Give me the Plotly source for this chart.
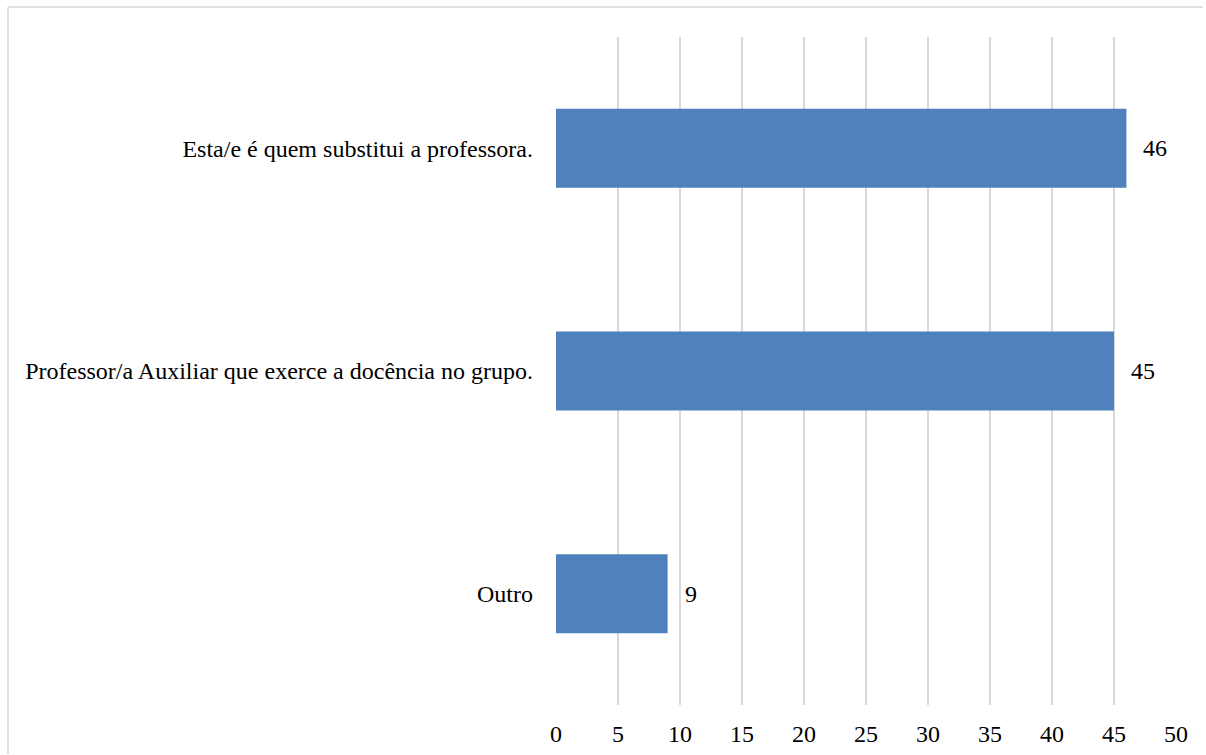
import plotly.graph_objects as go

categories = [
    "Esta/e é quem substitui a professora.",
    "Professor/a Auxiliar que exerce a docência no grupo.",
    "Outro",
]
values = [46, 45, 9]
tick_values = [0, 5, 10, 15, 20, 25, 30, 35, 40, 45, 50]

W, H = 1206, 755
L, R, T, B = 556, 30, 37, 50
plot_w = W - L - R
plot_h = H - T - B

FONT = "Liberation Serif"


def px_x(p):
    return (p - L) / plot_w


def px_y(p):
    return (T + plot_h - p) / plot_h


fig = go.Figure(
    go.Bar(
        x=values,
        y=categories,
        orientation="h",
        marker=dict(color="#4f81bd", line=dict(width=0)),
        hoverinfo="x+y",
    )
)

for cat, v in zip(categories, values):
    fig.add_annotation(
        x=v, y=cat, text=str(v), showarrow=False,
        xanchor="left", xshift=15,
        font=dict(family=FONT, size=24, color="#000000"),
    )

# outer chart frame: left and top edges
frame = dict(type="line", xref="paper", yref="paper",
             line=dict(color="#d9d9d9", width=1.5), layer="below")
fig.add_shape(x0=px_x(8), x1=px_x(8), y0=px_y(H - 1), y1=px_y(7), **frame)
fig.add_shape(x0=px_x(8), x1=px_x(W - 3), y0=px_y(7), y1=px_y(7), **frame)

fig.update_layout(
    width=W, height=H,
    margin=dict(l=L, r=R, t=T, b=B, autoexpand=False),
    paper_bgcolor="white", plot_bgcolor="white",
    bargap=0.645,
    showlegend=False,
    font=dict(family=FONT, size=24, color="#000000"),
    xaxis=dict(
        range=[0, 50], tickvals=tick_values, ticktext=[str(t) for t in tick_values],
        showgrid=True, gridcolor="#d9d9d9", gridwidth=1.5, automargin=False,
        zeroline=False, showline=False, ticks="", ticklabelstandoff=12,
        tickfont=dict(family=FONT, size=24, color="#000000"),
    ),
    yaxis=dict(
        autorange="reversed", showgrid=False, zeroline=False, showline=False,
        ticks="", ticklabelstandoff=22, automargin=False,
        tickfont=dict(family=FONT, size=24, color="#000000"),
    ),
)

fig.write_html("out.html")
